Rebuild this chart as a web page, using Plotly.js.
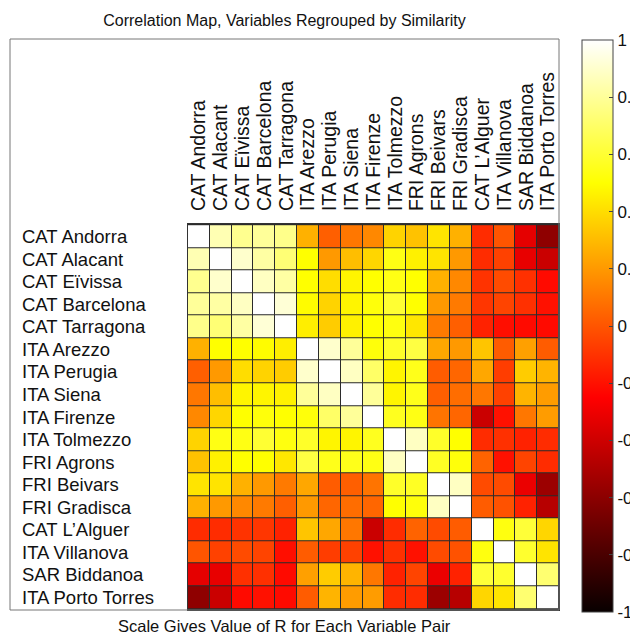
<!DOCTYPE html>
<html>
<head>
<meta charset="utf-8">
<script src="https://cdn.plot.ly/plotly-3.0.1.min.js"></script>
<style>
  html, body { margin: 0; padding: 0; background: #fff; overflow: hidden; }
  #chart { width: 630px; height: 635px; }
</style>
</head>
<body>
<div id="chart"></div>
<script>
// Variable names, in the regrouped order (rows top to bottom, columns left to right)
const labels = [
  "CAT Andorra", "CAT Alacant", "CAT Eïvissa", "CAT Barcelona", "CAT Tarragona",
  "ITA Arezzo", "ITA Perugia", "ITA Siena", "ITA Firenze", "ITA Tolmezzo",
  "FRI Agrons", "FRI Beivars", "FRI Gradisca", "CAT L’Alguer", "ITA Villanova",
  "SAR Biddanoa", "ITA Porto Torres"
];

// Pairwise correlation coefficients R
const corr = [
  [ 1.00,  0.85,  0.78,  0.80,  0.77,  0.27,  0.03,  0.10,  0.15,  0.37,  0.32,  0.42,  0.27, -0.12,  0.00, -0.33, -0.59],
  [ 0.85,  1.00,  0.90,  0.82,  0.73,  0.50,  0.20,  0.31,  0.38,  0.54,  0.46,  0.42,  0.20, -0.12, -0.06, -0.32, -0.41],
  [ 0.78,  0.90,  1.00,  0.88,  0.82,  0.50,  0.40,  0.47,  0.50,  0.54,  0.50,  0.27,  0.15, -0.10, -0.03, -0.11, -0.22],
  [ 0.80,  0.82,  0.88,  1.00,  0.92,  0.49,  0.37,  0.47,  0.52,  0.60,  0.50,  0.20,  0.11, -0.09, -0.05, -0.11, -0.20],
  [ 0.77,  0.73,  0.82,  0.92,  1.00,  0.45,  0.35,  0.46,  0.50,  0.53,  0.43,  0.11,  0.03, -0.15, -0.21, -0.22, -0.22],
  [ 0.27,  0.50,  0.50,  0.49,  0.45,  1.00,  0.90,  0.80,  0.52,  0.58,  0.63,  0.24,  0.20,  0.33,  0.02,  0.22,  0.02],
  [ 0.03,  0.20,  0.40,  0.37,  0.35,  0.90,  1.00,  0.88,  0.70,  0.47,  0.55,  0.02,  0.05,  0.24, -0.07,  0.35,  0.28],
  [ 0.10,  0.31,  0.47,  0.47,  0.46,  0.80,  0.88,  1.00,  0.80,  0.47,  0.55,  0.03,  0.07,  0.10, -0.06,  0.28,  0.21],
  [ 0.15,  0.38,  0.50,  0.52,  0.50,  0.52,  0.70,  0.80,  1.00,  0.56,  0.54,  0.09,  0.05, -0.41, -0.20,  0.10,  0.21],
  [ 0.37,  0.54,  0.54,  0.60,  0.53,  0.58,  0.47,  0.47,  0.56,  1.00,  0.88,  0.58,  0.50, -0.12, -0.11, -0.15, -0.12],
  [ 0.32,  0.46,  0.50,  0.50,  0.43,  0.63,  0.55,  0.55,  0.54,  0.88,  1.00,  0.57,  0.52,  0.04, -0.20, -0.05, -0.12],
  [ 0.42,  0.42,  0.27,  0.20,  0.11,  0.24,  0.02,  0.03,  0.09,  0.58,  0.57,  1.00,  0.88, -0.03, -0.03, -0.31, -0.55],
  [ 0.27,  0.20,  0.15,  0.11,  0.03,  0.20,  0.05,  0.07,  0.05,  0.50,  0.52,  0.88,  1.00,  0.02, -0.01, -0.15, -0.47],
  [-0.12, -0.12, -0.10, -0.09, -0.15,  0.33,  0.24,  0.10, -0.41, -0.12,  0.04, -0.03,  0.02,  1.00,  0.53,  0.61,  0.38],
  [ 0.00, -0.06, -0.03, -0.05, -0.21,  0.02, -0.07, -0.06, -0.20, -0.11, -0.20, -0.03, -0.01,  0.53,  1.00,  0.59,  0.42],
  [-0.33, -0.32, -0.11, -0.11, -0.22,  0.22,  0.35,  0.28,  0.10, -0.15, -0.05, -0.31, -0.15,  0.61,  0.59,  1.00,  0.72],
  [-0.59, -0.41, -0.22, -0.20, -0.22,  0.02,  0.28,  0.21,  0.21, -0.12, -0.12, -0.55, -0.47,  0.38,  0.42,  0.72,  1.00]
];

// Colour bar ticks
const cbTickVals = [-1, -0.8, -0.6, -0.4, -0.2, 0, 0.2, 0.4, 0.6, 0.8, 1];
const cbTickText = ["-1", "-0.8", "-0.6", "-0.4", "-0.2", "0", "0.2", "0.4", "0.6", "0.8", "1"];

// "hot" colormap: black -> red -> yellow -> white
const hot = [
  [0.000, "rgb(8,0,0)"],
  [0.375, "rgb(255,0,0)"],
  [0.750, "rgb(255,255,0)"],
  [1.000, "rgb(255,255,255)"]
];

const W = 630, H = 635;
const px = v => v / W;            // pixel x -> paper
const py = v => 1 - v / H;        // pixel y -> paper

const FONT = "Liberation Sans, Arial, Helvetica, sans-serif";

// colour bar geometry
const cbTop = py(40), cbBot = py(612);
const cbLeft = px(582), cbThick = 31;

const trace = {
  type: "heatmap",
  z: corr,
  x: labels,
  y: labels,
  zmin: -1,
  zmax: 1,
  colorscale: hot,
  xgap: 1,
  ygap: 1,
  hoverinfo: "skip",
  colorbar: {
    x: cbLeft,
    xanchor: "left",
    xref: "paper",
    y: (cbTop + cbBot) / 2,
    yanchor: "middle",
    yref: "paper",
    len: cbTop - cbBot,
    lenmode: "fraction",
    thickness: cbThick,
    thicknessmode: "pixels",
    xpad: 0,
    ypad: 0,
    outlinewidth: 1,
    outlinecolor: "#444",
    tickmode: "array",
    tickvals: cbTickVals,
    ticktext: cbTickText,
    ticks: "inside",
    ticklen: 4,
    tickwidth: 1,
    tickcolor: "#444",
    tickfont: { family: FONT, size: 17, color: "#111" }
  }
};

// row labels, left aligned inside the frame
const rowLabels = labels.map((name, i) => ({
  xref: "paper", x: px(20), xanchor: "left",
  yref: "y", y: i, yanchor: "middle",
  text: name, showarrow: false,
  font: { family: FONT, size: 18.5, color: "#111" }
}));

// tick marks on the left edge of the colour bar
const cbLeftTicks = cbTickVals.slice(1, -1).map(v => {
  const yy = cbBot + (v + 1) / 2 * (cbTop - cbBot);
  return {
    type: "line", xref: "paper", yref: "paper",
    x0: cbLeft, x1: cbLeft + px(4), y0: yy, y1: yy,
    line: { color: "#444", width: 1 }
  };
});

const layout = {
  width: W,
  height: H,
  margin: { l: 0, r: 0, t: 0, b: 0, autoexpand: false },
  paper_bgcolor: "#fff",
  plot_bgcolor: "#2b2b2b",
  showlegend: false,
  title: {
    text: "Correlation Map, Variables Regrouped by Similarity",
    font: { family: FONT, size: 16, color: "#111" },
    xref: "paper", x: px(284.5), xanchor: "center",
    yref: "paper", y: py(20), yanchor: "middle"
  },
  xaxis: {
    domain: [px(188), px(559)],
    side: "top",
    tickmode: "array",
    tickvals: labels,
    ticktext: labels,
    tickangle: -90,
    ticks: "outside",
    ticklen: 8,
    tickcolor: "rgba(0,0,0,0)",
    tickfont: { family: FONT, size: 19.5, color: "#111" },
    showline: true, mirror: true, linecolor: "#333", linewidth: 1,
    showgrid: false, zeroline: false, fixedrange: true,
    automargin: false
  },
  yaxis: {
    domain: [py(610), py(224)],
    autorange: "reversed",
    showticklabels: false,
    ticks: "",
    showline: true, mirror: true, linecolor: "#333", linewidth: 1,
    showgrid: false, zeroline: false, fixedrange: true,
    automargin: false
  },
  shapes: [
    // outer frame around labels and map
    {
      type: "rect", xref: "paper", yref: "paper",
      x0: px(10), x1: px(559), y0: py(610), y1: py(39),
      line: { color: "#777", width: 1 }, fillcolor: "rgba(0,0,0,0)", layer: "above"
    }
  ].concat(cbLeftTicks),
  annotations: rowLabels.concat([
    {
      xref: "paper", x: px(284.5), xanchor: "center",
      yref: "paper", y: py(626), yanchor: "middle",
      text: "Scale Gives Value of R for Each Variable Pair",
      showarrow: false,
      font: { family: FONT, size: 16.5, color: "#111" }
    }
  ])
};

Plotly.newPlot("chart", [trace], layout, { staticPlot: true, displayModeBar: false });
</script>
</body>
</html>
